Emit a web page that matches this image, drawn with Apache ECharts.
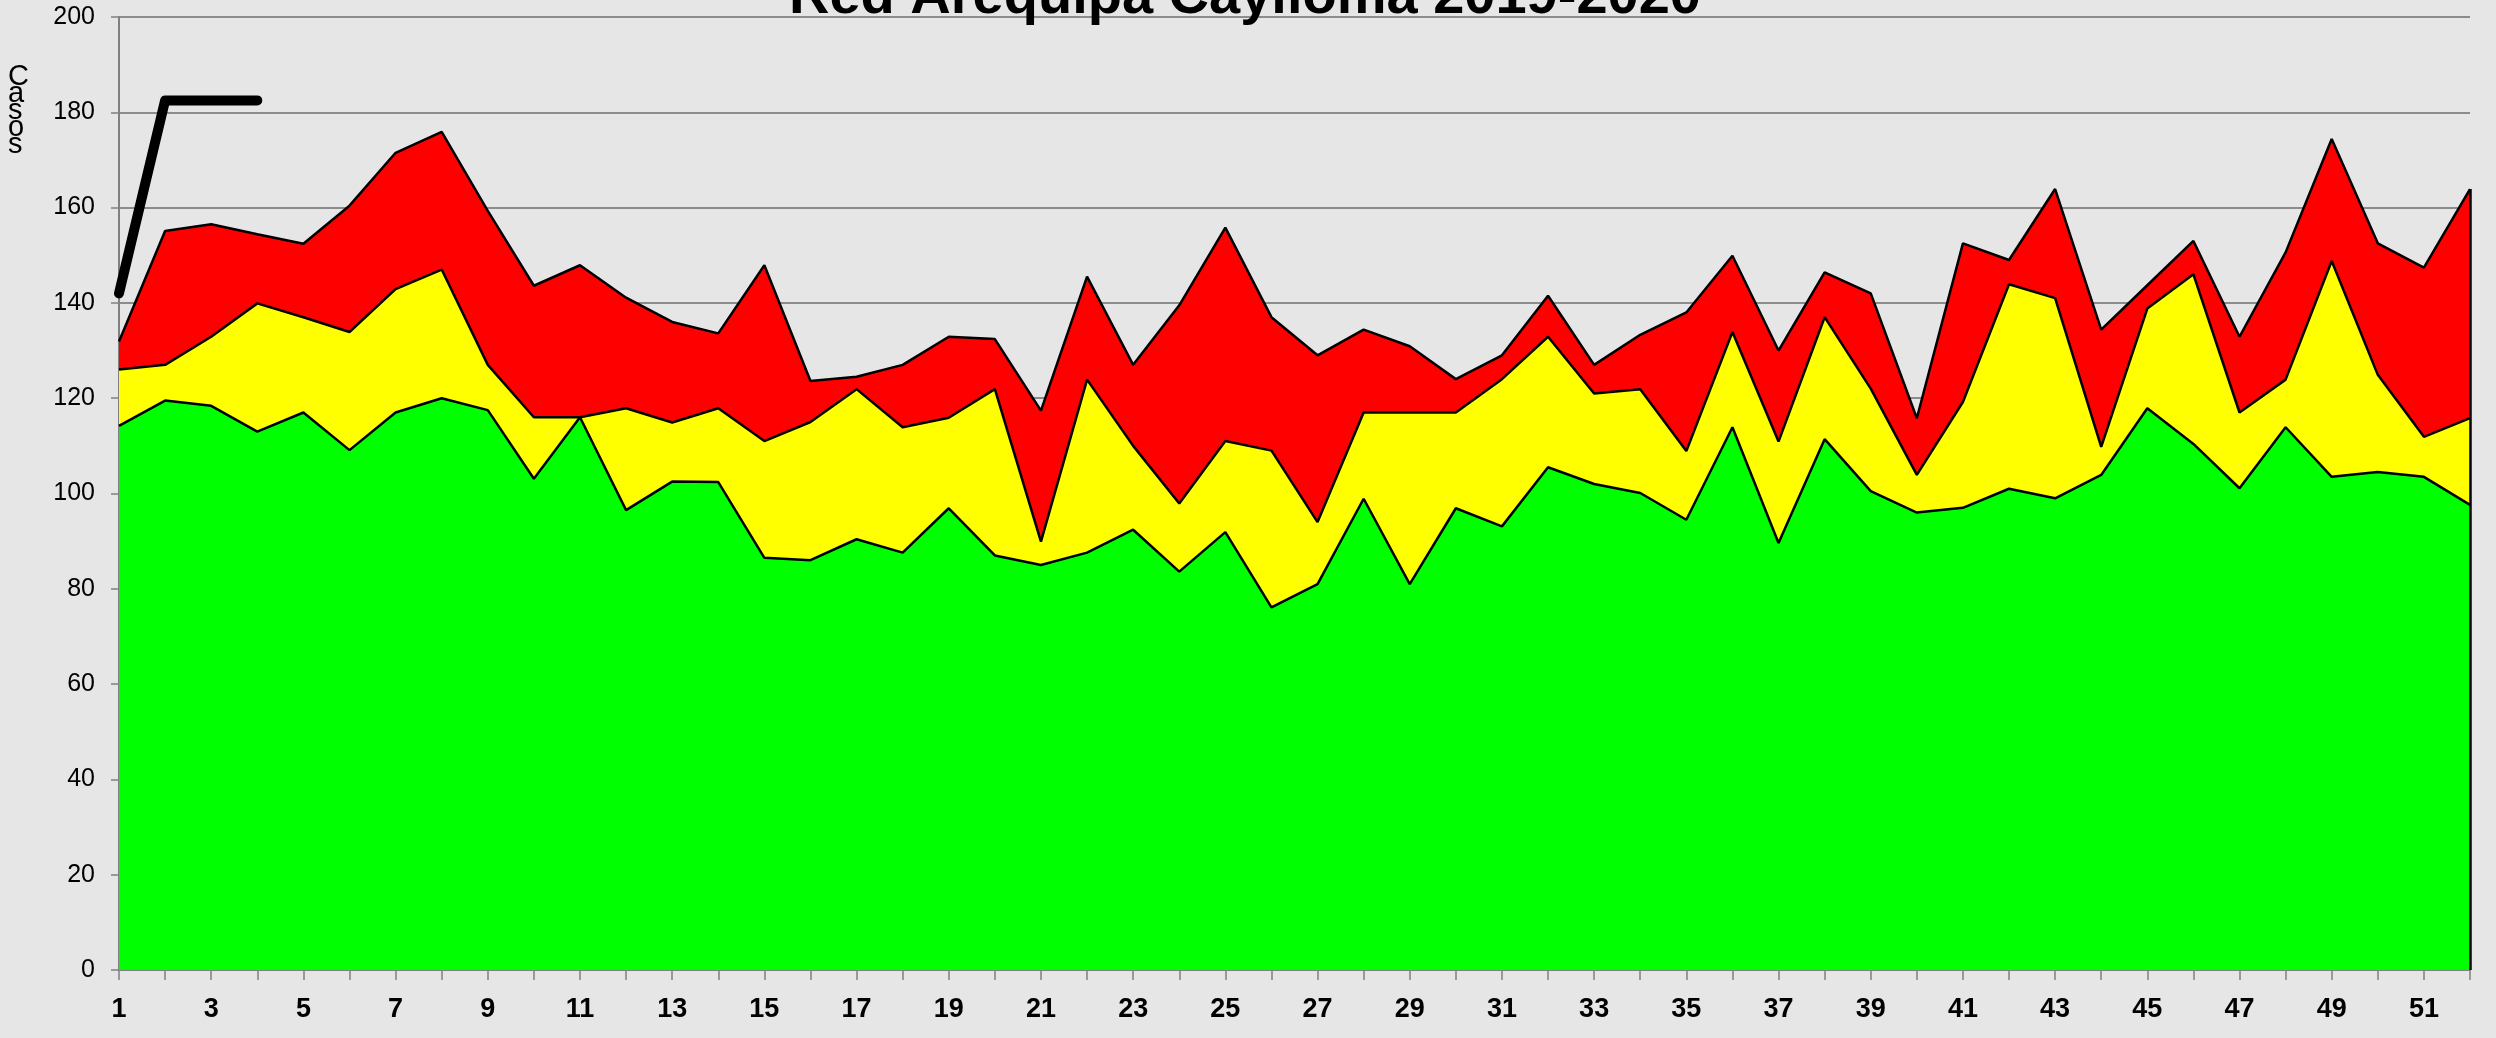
<!DOCTYPE html>
<html>
<head>
<meta charset="utf-8">
<title>Red Arequipa Caylloma 2019-2020</title>
<script src="https://cdn.jsdelivr.net/npm/echarts@6/dist/echarts.min.js"></script>
<style>
  html, body { margin: 0; padding: 0; background: #e6e6e6; }
  #chart { width: 2496px; height: 1038px; }
</style>
</head>
<body>
<div id="chart"></div>
<script>
// Epidemiological weeks
const weeks = Array.from({ length: 52 }, (_, i) => String(i + 1));

// Endemic channel bands (upper limit of each zone)
const zonaExito = [
  114.2, 119.5, 118.4, 113.0, 117.0, 109.1, 117.0, 120.0, 117.5, 103.1,
  116.0, 96.5, 102.5, 102.4, 86.5, 86.0, 90.4, 87.6, 96.9, 87.0,
  85.0, 87.6, 92.4, 83.6, 91.9, 76.1, 81.0, 98.9, 81.0, 96.9,
  93.1, 105.5, 102.0, 100.1, 94.5, 113.9, 89.6, 111.4, 100.5, 96.0,
  97.0, 101.0, 99.0, 103.9, 117.9, 110.4, 101.1, 113.9, 103.5, 104.5,
  103.5, 97.6
];
const zonaSeguridad = [
  126.0, 127.0, 132.9, 139.9, 137.0, 133.9, 142.9, 147.0, 127.0, 116.0,
  116.0, 117.9, 114.9, 117.9, 111.0, 115.0, 121.9, 113.9, 115.9, 121.9,
  89.9, 123.9, 110.0, 97.9, 111.0, 109.0, 94.0, 117.0, 117.0, 117.0,
  124.0, 132.9, 121.0, 121.9, 108.9, 133.9, 110.9, 137.0, 122.0, 103.9,
  119.2, 143.9, 141.0, 109.8, 138.8, 146.0, 117.0, 123.9, 148.8, 124.9,
  111.9, 115.8
];
const zonaAlarma = [
  131.9, 155.1, 156.5, 154.4, 152.4, 160.4, 171.5, 175.9, 159.3, 143.6,
  147.9, 141.1, 136.0, 133.6, 147.9, 123.6, 124.5, 127.0, 132.9, 132.4,
  117.4, 145.5, 127.0, 139.5, 155.8, 137.0, 129.0, 134.4, 130.9, 124.0,
  129.0, 141.5, 127.0, 133.3, 138.0, 149.9, 130.0, 146.4, 142.0, 115.8,
  152.5, 149.0, 163.9, 134.4, 143.7, 153.0, 132.9, 150.6, 174.4, 152.5,
  147.4, 163.9
];
// Reported cases of the current season
const casos = [142, 182.5, 182.5, 182.5];

const yTicks = { min: 0, max: 200, interval: 20 };

const chart = echarts.init(document.getElementById('chart'), null, { renderer: 'canvas' });

function band(name, color, values, z) {
  return {
    name: name,
    type: 'line',
    data: values,
    symbol: 'none',
    z: z,
    lineStyle: { color: '#000', width: 2.5 },
    areaStyle: { color: color, opacity: 1 },
    silent: true
  };
}

const lastWeek = weeks[weeks.length - 1];
const greenSeries = band('Éxito', '#00ff00', zonaExito, 4);
// closing edge of the channel at the last week
greenSeries.markLine = {
  silent: true,
  symbol: 'none',
  label: { show: false },
  lineStyle: { color: '#000', width: 2.5, type: 'solid' },
  data: [[
    { coord: [lastWeek, 0] },
    { coord: [lastWeek, zonaAlarma[zonaAlarma.length - 1]] }
  ]]
};

chart.setOption({
  backgroundColor: '#e6e6e6',
  animation: false,
  title: {
    text: 'Red Arequipa Caylloma 2019-2020',
    left: 784,
    top: -35,
    textStyle: {
      fontFamily: 'Liberation Sans',
      fontWeight: 'bold',
      fontSize: 56,
      color: '#000'
    }
  },
  graphic: [{
    type: 'text',
    left: 8,
    top: 62,
    style: {
      text: 'C\na\ns\no\ns',
      font: '29px "Liberation Sans"',
      lineHeight: 17,
      fill: '#000',
      align: 'center'
    }
  }],
  grid: { left: 119, right: 26, top: 17, bottom: 68, containLabel: false },
  xAxis: {
    type: 'category',
    data: weeks,
    boundaryGap: false,
    axisLine: { lineStyle: { color: '#808080', width: 2 } },
    axisTick: { show: true, interval: 0, length: 10, lineStyle: { color: '#808080', width: 1.5 } },
    axisLabel: {
      interval: 1,
      margin: 26,
      fontFamily: 'Liberation Sans',
      fontWeight: 'bold',
      fontSize: 27,
      color: '#000'
    },
    splitLine: { show: false }
  },
  yAxis: {
    type: 'value',
    min: yTicks.min,
    max: yTicks.max,
    interval: yTicks.interval,
    axisLine: { show: true, lineStyle: { color: '#808080', width: 2 } },
    axisTick: { show: true, length: 8, lineStyle: { color: '#808080', width: 1.5 } },
    axisLabel: {
      margin: 24,
      fontFamily: 'Liberation Sans',
      fontSize: 25,
      color: '#000'
    },
    splitLine: { show: true, lineStyle: { color: '#8c8c8c', width: 2 } }
  },
  series: [
    band('Alarma', '#ff0000', zonaAlarma, 2),
    band('Seguridad', '#ffff00', zonaSeguridad, 3),
    greenSeries,
    {
      name: 'Casos',
      type: 'line',
      data: casos,
      symbol: 'none',
      z: 5,
      clip: true,
      lineStyle: { color: '#000', width: 10, cap: 'round', join: 'round' },
      silent: true
    }
  ]
});
</script>
</body>
</html>
